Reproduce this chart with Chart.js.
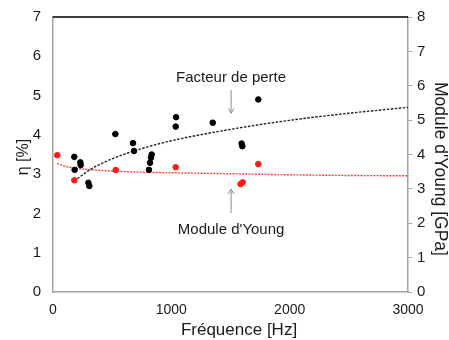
<!DOCTYPE html>
<html>
<head>
<meta charset="utf-8">
<script src="https://cdn.jsdelivr.net/npm/chart.js@4/dist/chart.umd.min.js"></script>
<style>
  html, body { margin: 0; padding: 0; background: #fff; }
  #wrap { width: 449px; height: 340px; }
</style>
</head>
<body>
<div id="wrap"><canvas id="c" width="449" height="340"></canvas></div>
<script>
// Loss factor measurements (left axis, %)
const lossFreq   = [180, 183, 231, 234, 299, 307, 527, 676, 685, 811, 820, 828, 834, 1037, 1040, 1350, 1594, 1600, 1735];
const lossFactor = [3.44, 3.11, 3.30, 3.23, 2.78, 2.70, 4.02, 3.79, 3.59, 3.11, 3.29, 3.42, 3.50, 4.21, 4.45, 4.31, 3.78, 3.71, 4.90];

// Young's modulus measurements (right axis, GPa)
const youngFreq    = [36, 180, 530, 1037, 1585, 1603, 1735];
const youngModulus = [3.98, 3.25, 3.55, 3.63, 3.14, 3.19, 3.72];

// Trend curves
const lossTrendFreq  = [180, 300, 500, 750, 1000, 1500, 2000, 2500, 3000];
const lossTrend      = [2.82, 3.09, 3.39, 3.65, 3.85, 4.14, 4.37, 4.55, 4.70];
const youngTrendFreq = [36, 100, 200, 400, 700, 1000, 1500, 2000, 2500, 3000];
const youngTrend     = [3.74, 3.66, 3.60, 3.54, 3.49, 3.47, 3.44, 3.41, 3.39, 3.38];

// Axis ranges and ticks
const freqTicks  = [0, 1000, 2000, 3000];
const etaTicks   = [0, 1, 2, 3, 4, 5, 6, 7];
const youngTicks = [0, 1, 2, 3, 4, 5, 6, 7, 8];

// Axis titles
const xTitle  = 'Fréquence [Hz]';
const yTitle  = 'η [%]';
const y2Title = "Module d'Young [GPa]";

// Callout labels: text, anchor (Hz, % on the left axis), arrow start and tip
const callouts = [
  { text: 'Facteur de perte', f: 1505, eta: 5.45, from: 5.14, to: 4.55 },
  { text: "Module d'Young",   f: 1505, eta: 1.58, from: 2.01, to: 2.62 }
];

const pts = (xs, ys) => xs.map((x, i) => ({ x, y: ys[i] }));

const FONT = "'Liberation Sans', Arial, sans-serif";
const AXIS_GREY = '#a3a3a3';
const TEXT = '#1a1a1a';

// Black top edge of the plot frame
const frame = {
  id: 'frame',
  afterDraw(chart) {
    const { ctx, chartArea: a } = chart;
    ctx.save();
    ctx.strokeStyle = '#000';
    ctx.lineWidth = 1.5;
    ctx.beginPath();
    ctx.moveTo(a.left, a.top);
    ctx.lineTo(a.right, a.top);
    ctx.stroke();
    ctx.restore();
  }
};

// Axis titles, placed around the plot area
const titles = {
  id: 'titles',
  afterDraw(chart) {
    const { ctx, chartArea: a } = chart;
    ctx.save();
    ctx.fillStyle = TEXT;
    ctx.textAlign = 'center';
    ctx.textBaseline = 'middle';

    ctx.font = '17px ' + FONT;
    ctx.fillText(xTitle, a.left + 186, a.bottom + 38);

    ctx.save();
    ctx.translate(a.left - 29, a.top + 140);
    ctx.rotate(-Math.PI / 2);
    ctx.font = '16px ' + FONT;
    ctx.fillText(yTitle, 0, 0);
    ctx.restore();

    ctx.save();
    ctx.translate(a.right + 32, a.top + 152);
    ctx.rotate(Math.PI / 2);
    ctx.font = '17.5px ' + FONT;
    ctx.fillText(y2Title, 0, 0);
    ctx.restore();

    ctx.restore();
  }
};

const calloutPlugin = {
  id: 'callouts',
  afterDatasetsDraw(chart) {
    const { ctx, scales } = chart;
    ctx.save();
    callouts.forEach(c => {
      const x = scales.x.getPixelForValue(c.f);
      const ty = scales.y.getPixelForValue(c.eta);
      ctx.fillStyle = TEXT;
      ctx.font = '15px ' + FONT;
      ctx.textAlign = 'center';
      ctx.textBaseline = 'middle';
      ctx.fillText(c.text, x, ty);
      const y0 = scales.y.getPixelForValue(c.from);
      const y1 = scales.y.getPixelForValue(c.to);
      const dir = y1 > y0 ? 1 : -1;
      ctx.strokeStyle = '#8a8a8a';
      ctx.lineWidth = 1;
      ctx.beginPath();
      ctx.moveTo(x, y0);
      ctx.lineTo(x, y1);
      ctx.moveTo(x - 3, y1 - dir * 5);
      ctx.lineTo(x, y1);
      ctx.lineTo(x + 3, y1 - dir * 5);
      ctx.stroke();
    });
    ctx.restore();
  }
};

new Chart(document.getElementById('c'), {
  type: 'scatter',
  data: {
    datasets: [
      {
        label: 'Facteur de perte',
        data: pts(lossFreq, lossFactor),
        yAxisID: 'y',
        backgroundColor: '#000',
        borderColor: '#000',
        pointRadius: 2.8,
        pointHoverRadius: 2.8,
        order: 1
      },
      {
        label: "Module d'Young",
        data: pts(youngFreq, youngModulus),
        yAxisID: 'y2',
        backgroundColor: '#ff1a1a',
        borderColor: '#ff1a1a',
        pointRadius: 2.8,
        pointHoverRadius: 2.8,
        order: 1
      },
      {
        label: 'Tendance facteur de perte',
        type: 'line',
        data: pts(lossTrendFreq, lossTrend),
        yAxisID: 'y',
        borderColor: '#222',
        borderWidth: 1.4,
        borderDash: [2.5, 1.5],
        pointRadius: 0,
        cubicInterpolationMode: 'monotone',
        fill: false,
        order: 2
      },
      {
        label: "Tendance module d'Young",
        type: 'line',
        data: pts(youngTrendFreq, youngTrend),
        yAxisID: 'y2',
        borderColor: '#ff4040',
        borderWidth: 1.4,
        borderDash: [2, 1.2],
        pointRadius: 0,
        cubicInterpolationMode: 'monotone',
        fill: false,
        order: 2
      }
    ]
  },
  options: {
    responsive: false,
    animation: false,
    layout: { padding: { top: 17, right: 0, bottom: 0, left: 0 } },
    plugins: {
      legend: { display: false },
      tooltip: { enabled: false }
    },
    scales: {
      x: {
        type: 'linear',
        min: freqTicks[0],
        max: freqTicks[freqTicks.length - 1],
        afterBuildTicks(s) { s.ticks = freqTicks.map(v => ({ value: v })); },
        afterFit(s) { s.height = 48; s.paddingLeft = 0; s.paddingRight = 0; },
        border: { display: true, color: AXIS_GREY, width: 1.5 },
        grid: { display: true, drawOnChartArea: false, drawTicks: false },
        ticks: { color: TEXT, font: { family: FONT, size: 14 }, padding: 10, maxRotation: 0, callback: v => String(v) }
      },
      y: {
        position: 'left',
        min: etaTicks[0],
        max: etaTicks[etaTicks.length - 1],
        afterBuildTicks(s) { s.ticks = etaTicks.map(v => ({ value: v })); },
        afterFit(s) { s.width = 53; s.paddingTop = 0; s.paddingBottom = 0; },
        border: { display: true, color: AXIS_GREY, width: 1.5 },
        grid: { display: true, drawOnChartArea: false, drawTicks: false },
        ticks: { color: TEXT, font: { family: FONT, size: 15 }, padding: 12, callback: v => String(v) }
      },
      y2: {
        position: 'right',
        min: youngTicks[0],
        max: youngTicks[youngTicks.length - 1],
        afterBuildTicks(s) { s.ticks = youngTicks.map(v => ({ value: v })); },
        afterFit(s) { s.width = 41; s.paddingTop = 0; s.paddingBottom = 0; },
        border: { display: true, color: AXIS_GREY, width: 1.5 },
        grid: { display: true, drawOnChartArea: false, drawTicks: true, tickLength: 4, color: AXIS_GREY },
        ticks: { color: TEXT, font: { family: FONT, size: 15 }, padding: 5, callback: v => String(v) }
      }
    }
  },
  plugins: [frame, titles, calloutPlugin]
});
</script>
</body>
</html>
